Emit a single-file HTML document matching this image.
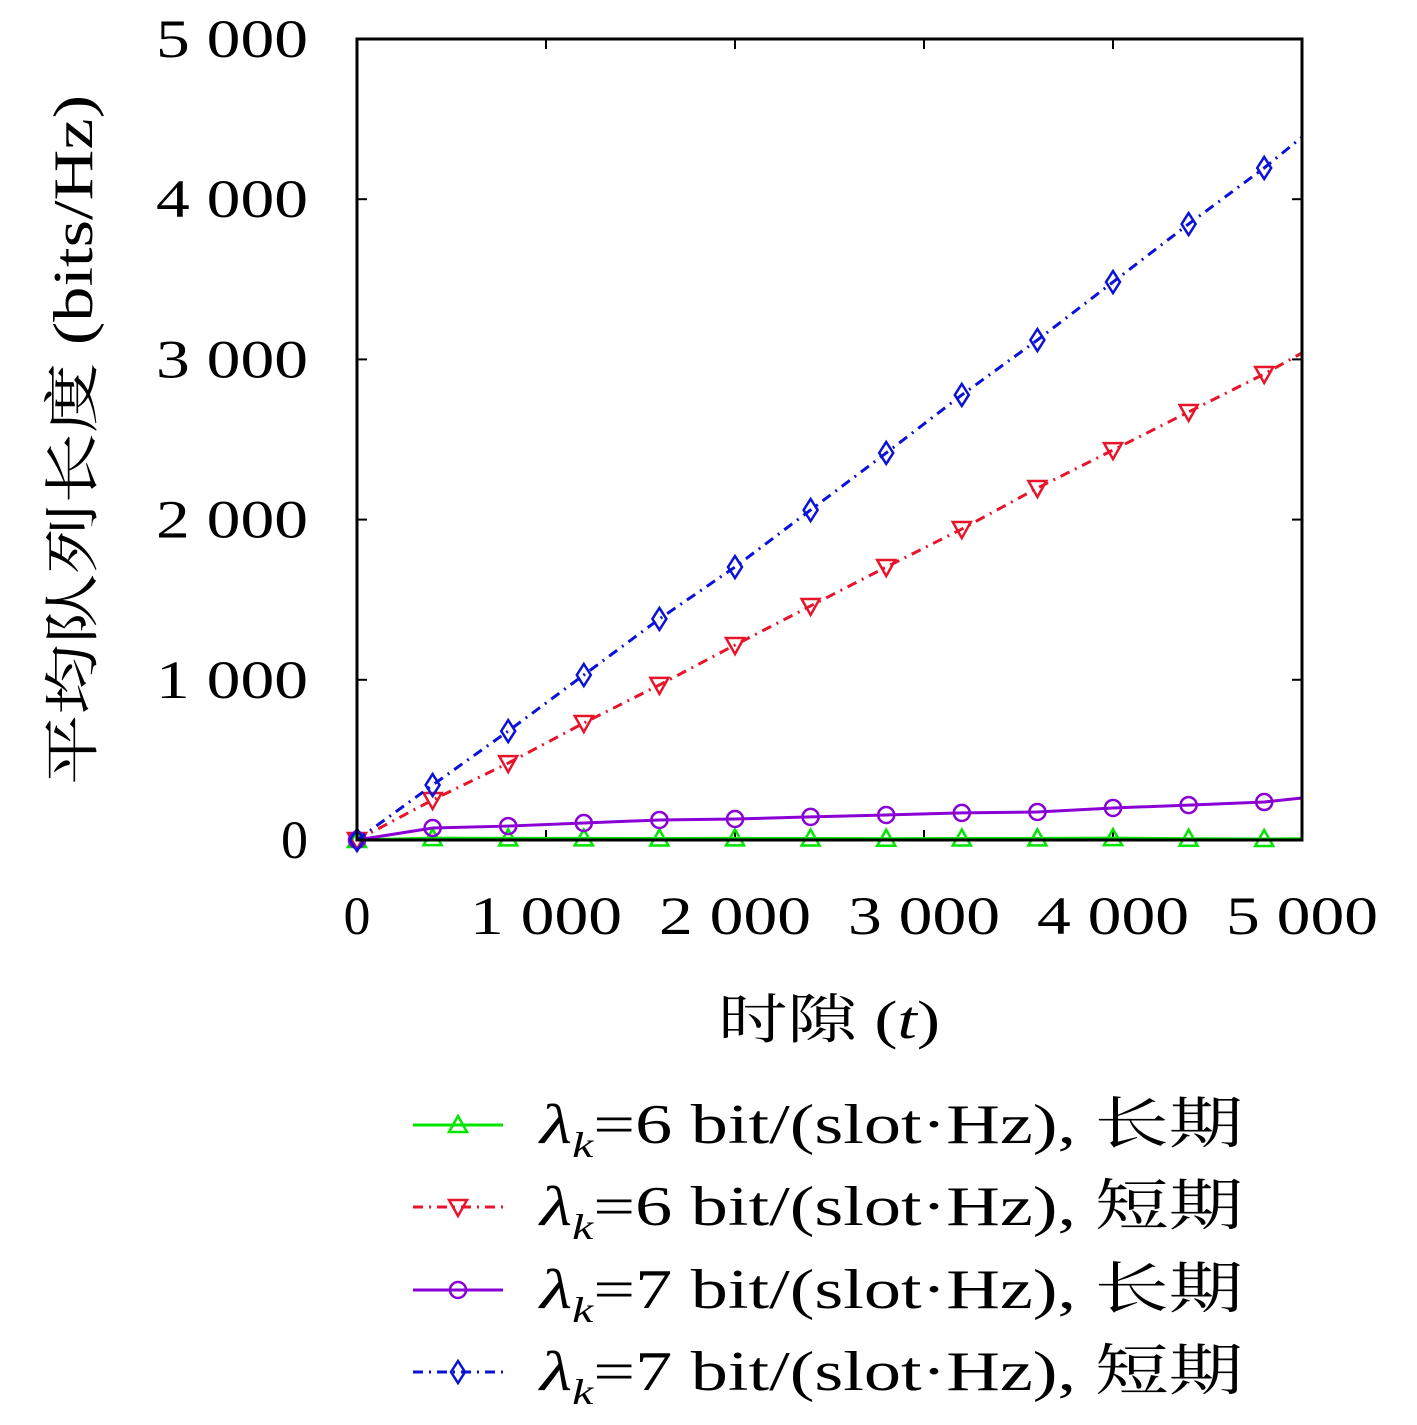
<!DOCTYPE html>
<html><head><meta charset="utf-8"><style>
html,body{margin:0;padding:0;background:#fff;}
svg{display:block;}
text{font-family:"Liberation Serif","Noto Serif CJK SC",serif;fill:#000;}
</style></head><body>
<svg id="chart" width="1417" height="1425" viewBox="0 0 1417 1425" xmlns="http://www.w3.org/2000/svg"></svg>
<script>
const tValues=[0,400,800,1200,1600,2000,2400,2800,3200,3600,4000,4400,4800,5000];
const green6Long=[0,12,10,10,9,10,9,8,9,10,12,8,6,8];
const red6Short=[0,250,480,730,968,1217,1461,1704,1941,2197,2434,2672,2909,3040];
const purple7Long=[0,75,87,106,125,131,144,156,169,175,200,218,237,262];
const blue7Short=[0,343,680,1030,1380,1704,2060,2416,2778,3121,3483,3845,4195,4388];
const xTicks=[0,1000,2000,3000,4000,5000];
const xTickLabels=["0","1 000","2 000","3 000","4 000","5 000"];
const yTicks=[0,1000,2000,3000,4000,5000];
const yTickLabels=["0","1 000","2 000","3 000","4 000","5 000"];
const NS="http://www.w3.org/2000/svg";
const svg=document.getElementById('chart');
const X0=357,X1=1302,Y0=840,Y1=39;
const sx=v=>X0+(v/5000)*(X1-X0);
const sy=v=>Y0-(v/5000)*(Y0-Y1);
function mk(tag,attrs,parent){const e=document.createElementNS(NS,tag);for(const k in attrs)e.setAttribute(k,attrs[k]);(parent||svg).appendChild(e);return e;}
xTicks.forEach((v,i)=>{
 const t1=mk('line',{x1:sx(v),x2:sx(v),y1:Y0,y2:Y0-10,stroke:'#000','stroke-width':2});
 
 
 mk('line',{x1:sx(v),x2:sx(v),y1:Y1,y2:Y1+10,stroke:'#000','stroke-width':2});
 const a={x:sx(v),y:934,'font-size':54,'text-anchor':'middle'};
 if(xTickLabels[i].length>1){a.textLength=152;a.lengthAdjust='spacingAndGlyphs';}
 const tx=mk('text',a);
 tx.textContent=xTickLabels[i];
 
 
});
yTicks.forEach((v,i)=>{
 const t1=mk('line',{x1:X0,x2:X0+10,y1:sy(v),y2:sy(v),stroke:'#000','stroke-width':2});
 
 
 mk('line',{x1:X1,x2:X1-10,y1:sy(v),y2:sy(v),stroke:'#000','stroke-width':2});
 const a={x:308,y:sy(v)+18,'font-size':54,'text-anchor':'end'};
 if(yTickLabels[i].length>1){a.textLength=152;a.lengthAdjust='spacingAndGlyphs';}
 const tx=mk('text',a);
 tx.textContent=yTickLabels[i];
 
 
});
const series=[
 {name:'series-lambda6-long',vals:green6Long,color:'#00e600',dash:'',marker:'tri-up'},
 {name:'series-lambda6-short',vals:red6Short,color:'#e8142a',dash:'10 6 2 6',marker:'tri-down'},
 {name:'series-lambda7-long',vals:purple7Long,color:'#8a00d4',dash:'',marker:'circle'},
 {name:'series-lambda7-short',vals:blue7Short,color:'#0b12d8',dash:'10 6 2 6',marker:'diamond'}
];
function marker(type,x,y,color,g){
 const a={fill:'none',stroke:color,'stroke-width':2.5};
 let m;
 if(type==='circle'){m=mk('circle',Object.assign({cx:x,cy:y,r:8},a),g);}
 else if(type==='tri-up'){m=mk('polygon',Object.assign({points:`${x},${y-9} ${x-9},${y+7} ${x+9},${y+7}`},a),g);}
 else if(type==='tri-down'){m=mk('polygon',Object.assign({points:`${x},${y+9} ${x-9},${y-7} ${x+9},${y-7}`},a),g);}
 else {m=mk('polygon',Object.assign({points:`${x},${y-11} ${x-7},${y} ${x},${y+11} ${x+7},${y}`},a),g);}
 return m;
}
series.forEach(s=>{
 const g=mk('g',{});
 
 
 const pts=tValues.map((t,i)=>sx(t)+','+sy(s.vals[i])).join(' ');
 const pl=mk('polyline',{points:pts,fill:'none',stroke:s.color,'stroke-width':3,'stroke-dasharray':s.dash},g);
 
 
 tValues.forEach((t,i)=>{
  if(t%400!==0) return;
  const m=marker(s.marker,sx(t),sy(s.vals[i]),s.color,g);
  
  
 });
});
const fr=mk('rect',{x:X0,y:Y1,width:X1-X0,height:Y0-Y1,fill:'none',stroke:'#000','stroke-width':3});


const xt=mk('text',{x:829,y:1038,'font-size':54,'text-anchor':'middle',textLength:222,lengthAdjust:'spacingAndGlyphs'});
xt.innerHTML='时隙 (<tspan font-style="italic">t</tspan>)';


const yt=mk('text',{x:0,y:0,'font-size':56,'text-anchor':'middle',textLength:690,lengthAdjust:'spacingAndGlyphs',transform:'translate(92,440) rotate(-90)'});
yt.textContent='平均队列长度 (bits/Hz)';


const legLabels=[['6','长期'],['6','短期'],['7','长期'],['7','短期']];
const legY=[1125,1207,1290,1372];
series.forEach((s,i)=>{
 const g=mk('g',{});
 
 
 const y=legY[i];
 mk('line',{x1:413,x2:503,y1:y,y2:y,stroke:s.color,'stroke-width':3,'stroke-dasharray':s.dash},g);
 marker(s.marker,458,y,s.color,g);
 const tx=mk('text',{x:540,y:y+18,'font-size':56,textLength:703,lengthAdjust:'spacingAndGlyphs'},g);
 tx.innerHTML='<tspan font-style="italic">λ</tspan><tspan font-size="36" font-style="italic" dy="14">k</tspan><tspan dy="-14">='+legLabels[i][0]+' bit/(slot·Hz), '+legLabels[i][1]+'</tspan>';
});
</script>
</body></html>
